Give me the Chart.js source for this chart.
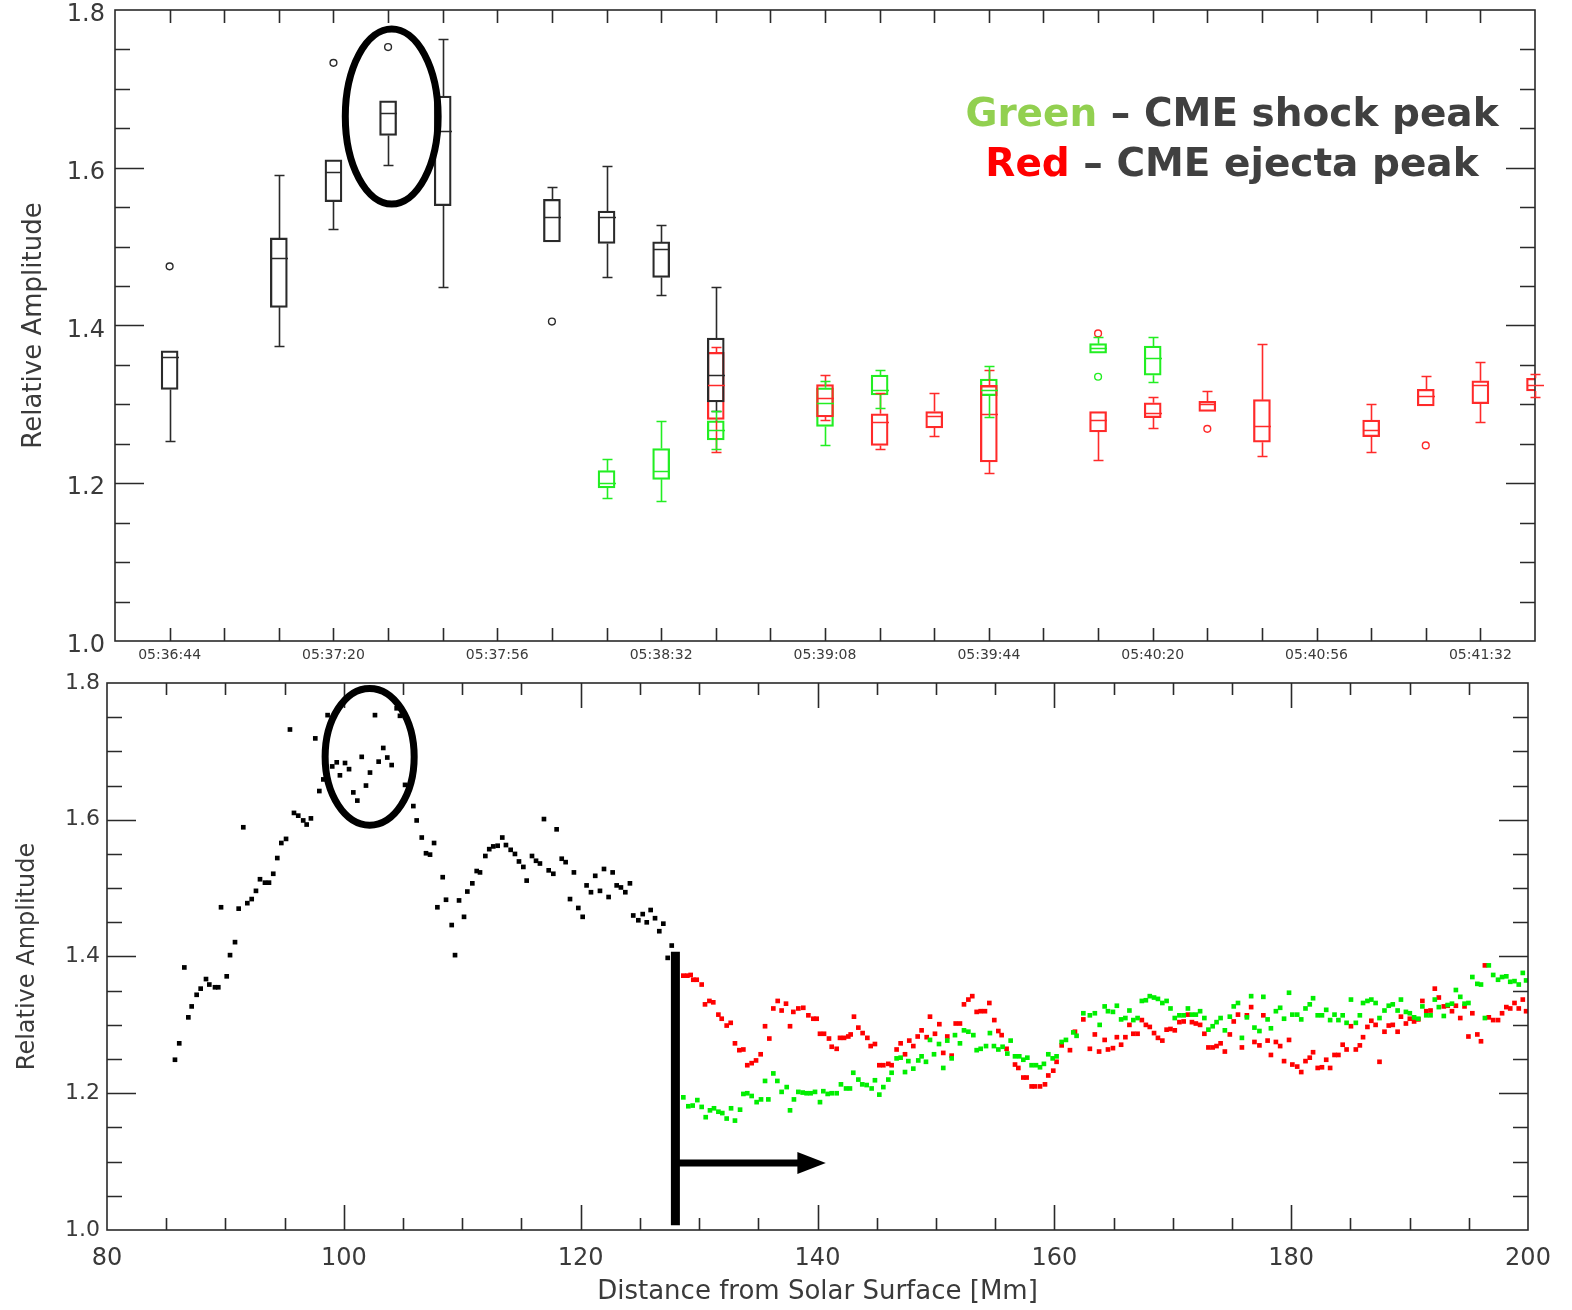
<!DOCTYPE html>
<html>
<head>
<meta charset="utf-8">
<script src="https://cdn.jsdelivr.net/npm/chart.js@4.4.1/dist/chart.umd.min.js"></script>
<style>
  html, body { margin: 0; padding: 0; background: #fff; }
  #wrap { position: relative; width: 1572px; height: 1310px; }
  .pane { position: absolute; left: 0; width: 1572px; }
  #topPane { top: 0; height: 672px; }
  #botPane { top: 672px; height: 638px; }
</style>
</head>
<body>
<div id="wrap">
  <div class="pane" id="topPane"><canvas id="boxChart" width="1572" height="672"></canvas></div>
  <div class="pane" id="botPane"><canvas id="dotChart" width="1572" height="638"></canvas></div>
</div>
<script>
// ---- top panel: box plots vs time ----
const timeStart = '05:36:32';
const timeEnd = '05:41:44';
const timeLabels = ['05:36:44', '05:37:20', '05:37:56', '05:38:32', '05:39:08',
  '05:39:44', '05:40:20', '05:40:56', '05:41:32'];

// each box: [min, q1, median, q3, max]
const blackTimes = ['05:36:44', '05:37:08', '05:37:20', '05:37:32', '05:37:44',
  '05:38:08', '05:38:20', '05:38:32', '05:38:44'];
const blackBoxes = [
  [1.254, 1.319, 1.360, 1.368, 1.368],
  [1.374, 1.423, 1.485, 1.511, 1.591],
  [1.522, 1.557, 1.595, 1.610, 1.610],
  [1.603, 1.641, 1.670, 1.685, 1.685],
  [1.449, 1.552, 1.646, 1.691, 1.763],
  [1.506, 1.506, 1.537, 1.560, 1.576],
  [1.461, 1.504, 1.537, 1.545, 1.602],
  [1.439, 1.461, 1.497, 1.506, 1.528],
  [1.292, 1.303, 1.337, 1.384, 1.449]
];
const blackOutliers = [['05:36:44', 1.475], ['05:37:20', 1.733], ['05:37:32', 1.753], ['05:38:08', 1.405]];

const greenTimes = ['05:38:20', '05:38:32', '05:38:44', '05:39:08', '05:39:20',
  '05:39:44', '05:40:08', '05:40:20'];
const greenBoxes = [
  [1.181, 1.194, 1.200, 1.216, 1.231],
  [1.178, 1.205, 1.216, 1.244, 1.279],
  [1.243, 1.255, 1.267, 1.279, 1.292],
  [1.248, 1.272, 1.302, 1.321, 1.330],
  [1.296, 1.312, 1.318, 1.337, 1.343],
  [1.284, 1.311, 1.318, 1.332, 1.349],
  [1.365, 1.365, 1.371, 1.377, 1.386],
  [1.329, 1.337, 1.359, 1.374, 1.385]
];
const greenOutliers = [['05:40:08', 1.335]];

const redTimes = ['05:38:44', '05:39:08', '05:39:20', '05:39:32', '05:39:44', '05:40:08',
  '05:40:20', '05:40:32', '05:40:44', '05:41:08', '05:41:20', '05:41:32', '05:41:44'];
const redBoxes = [
  [1.240, 1.281, 1.324, 1.366, 1.373],
  [1.280, 1.284, 1.308, 1.325, 1.337],
  [1.244, 1.248, 1.278, 1.288, 1.314],
  [1.260, 1.270, 1.285, 1.291, 1.315],
  [1.213, 1.227, 1.288, 1.324, 1.343],
  [1.229, 1.265, 1.280, 1.291, 1.291],
  [1.270, 1.283, 1.289, 1.302, 1.309],
  [1.291, 1.291, 1.301, 1.304, 1.317],
  [1.234, 1.252, 1.273, 1.306, 1.377],
  [1.239, 1.259, 1.267, 1.280, 1.301],
  [1.298, 1.298, 1.311, 1.319, 1.336],
  [1.278, 1.301, 1.325, 1.330, 1.354],
  [1.309, 1.317, 1.325, 1.333, 1.338]
];
const redOutliers = [['05:40:08', 1.390], ['05:40:32', 1.269], ['05:41:20', 1.248]];

// ---- bottom panel: amplitude vs distance [Mm, rel. amplitude] ----
const blackPoints = [
  [85.74,1.249],[86.10,1.273],[86.53,1.384],[86.87,1.311],[87.15,1.327],[87.57,1.344],[87.91,1.353],
  [88.36,1.367],[88.64,1.359],[89.12,1.355],[89.40,1.355],[89.63,1.472],[90.11,1.371],[90.39,1.402],
  [90.81,1.421],[91.12,1.470],[91.51,1.589],[91.85,1.478],[92.22,1.484],[92.58,1.496],[92.92,1.513],
  [93.34,1.508],[93.68,1.508],[94.04,1.521],[94.38,1.544],[94.72,1.566],[95.12,1.572],[95.45,1.732],
  [95.79,1.610],[96.15,1.606],[96.57,1.599],[96.86,1.593],[97.22,1.602],[97.59,1.719],[97.93,1.642],
  [98.27,1.659],[98.63,1.753],[99.02,1.678],[99.40,1.684],[99.67,1.665],[100.10,1.683],[100.44,1.674],
  [100.80,1.640],[101.14,1.628],[101.51,1.692],[101.87,1.650],[102.21,1.669],[102.63,1.753],[102.94,1.685],
  [103.33,1.705],[103.67,1.691],[104.04,1.680],[104.46,1.763],[104.74,1.752],[105.17,1.651],[105.87,1.620],
  [106.15,1.599],[106.58,1.574],[106.94,1.551],[107.28,1.549],[107.62,1.566],[107.90,1.472],[108.35,1.516],
  [108.63,1.483],[109.11,1.446],[109.39,1.402],[109.73,1.482],[110.15,1.458],[110.43,1.495],[110.85,1.507],
  [111.22,1.525],[111.50,1.523],[111.95,1.547],[112.28,1.557],[112.62,1.561],[112.99,1.562],[113.38,1.574],
  [113.69,1.563],[114.09,1.556],[114.45,1.550],[114.79,1.539],[115.16,1.531],[115.44,1.511],[115.89,1.547],
  [116.23,1.540],[116.56,1.536],[116.90,1.601],[117.30,1.526],[117.69,1.521],[117.97,1.586],[118.40,1.543],
  [118.73,1.538],[119.10,1.484],[119.43,1.523],[119.80,1.471],[120.17,1.458],[120.50,1.504],[120.87,1.494],
  [121.23,1.518],[121.63,1.496],[121.97,1.528],[122.36,1.487],[122.70,1.523],[123.04,1.504],[123.40,1.501],
  [123.77,1.494],[124.16,1.507],[124.44,1.460],[124.87,1.453],[125.24,1.462],[125.58,1.450],[125.91,1.468],
  [126.28,1.456],[126.64,1.437],[126.98,1.448],[127.35,1.398],[127.69,1.416]
];
const redPoints = [
  [128.67,1.372],[129.01,1.372],[129.29,1.373],[129.51,1.366],[129.80,1.366],[130.22,1.359],[130.50,1.330],
  [130.87,1.335],[131.20,1.333],[131.63,1.315],[131.91,1.309],[132.33,1.299],[132.67,1.303],[133.03,1.273],
  [133.40,1.263],[133.74,1.264],[134.07,1.241],[134.44,1.244],[134.81,1.248],[135.20,1.257],[135.57,1.298],
  [135.93,1.280],[136.27,1.324],[136.64,1.335],[136.97,1.321],[137.34,1.331],[137.68,1.298],[137.96,1.319],
  [138.38,1.324],[138.80,1.325],[139.23,1.314],[139.65,1.309],[139.93,1.309],[140.21,1.287],[140.55,1.287],
  [140.97,1.280],[141.20,1.268],[141.62,1.265],[141.90,1.281],[142.24,1.281],[142.60,1.283],[142.80,1.286],
  [143.08,1.312],[143.45,1.296],[143.81,1.288],[144.21,1.281],[144.49,1.269],[144.85,1.272],[145.22,1.241],
  [145.56,1.241],[145.98,1.243],[146.26,1.241],[146.68,1.264],[147.02,1.273],[147.39,1.257],[147.75,1.277],
  [148.09,1.269],[148.46,1.283],[148.79,1.292],[149.22,1.282],[149.50,1.312],[149.92,1.287],[150.29,1.301],
  [150.62,1.259],[150.96,1.283],[151.33,1.255],[151.67,1.302],[152.03,1.302],[152.37,1.330],[152.74,1.337],
  [153.07,1.342],[153.44,1.319],[153.78,1.320],[154.14,1.320],[154.51,1.332],[154.93,1.307],[155.27,1.291],
  [155.55,1.285],[155.97,1.265],[156.68,1.242],[156.96,1.237],[157.38,1.223],[157.66,1.223],[158.08,1.210],
  [158.36,1.210],[158.79,1.210],[159.21,1.213],[159.49,1.226],[159.91,1.233],[160.19,1.246],[160.62,1.270],
  [161.32,1.263],[161.74,1.290],[162.45,1.308],
  [163.00,1.265],[163.42,1.286],[163.78,1.261],[164.25,1.278],[164.53,1.264],[164.95,1.266],[165.28,1.282],
  [165.64,1.271],[166.00,1.282],[166.34,1.300],[166.67,1.287],[167.03,1.287],[167.39,1.307],[167.73,1.300],
  [168.06,1.297],[168.42,1.288],[168.75,1.281],[169.12,1.277],[169.48,1.293],[169.81,1.294],[170.17,1.292],
  [170.56,1.304],[170.92,1.305],[171.28,1.315],[171.62,1.304],[171.95,1.302],[172.31,1.300],[172.67,1.287],
  [173.01,1.267],[173.37,1.267],[173.70,1.269],[174.04,1.273],[174.40,1.261],[174.82,1.286],[175.15,1.305],
  [175.51,1.315],[175.84,1.267],[176.26,1.314],[176.62,1.326],[176.90,1.275],[177.32,1.270],[177.65,1.314],
  [178.01,1.277],[178.29,1.256],[178.71,1.275],[179.07,1.269],[179.40,1.247],[179.82,1.278],[180.10,1.242],
  [180.51,1.239],[180.85,1.231],[181.21,1.247],[181.57,1.252],[181.85,1.260],[182.24,1.237],[182.60,1.238],
  [182.96,1.249],[183.29,1.237],[183.66,1.256],[183.99,1.256],[184.35,1.271],[184.68,1.264],[185.05,1.298],
  [185.46,1.264],[185.80,1.270],[186.07,1.282],[186.44,1.297],[186.77,1.306],[187.13,1.300],[187.46,1.246],
  [187.88,1.290],[188.24,1.299],[188.58,1.300],[188.99,1.290],[189.27,1.312],[189.69,1.302],[190.02,1.309],
  [190.38,1.305],[190.74,1.308],[191.08,1.335],[191.41,1.320],[191.77,1.321],[192.13,1.353],[192.47,1.340],
  [192.89,1.327],[193.22,1.328],[193.58,1.320],[193.91,1.328],[194.28,1.310],[194.64,1.327],[194.97,1.283],
  [195.30,1.317],[195.72,1.286],[196.03,1.276],[196.36,1.387],[196.69,1.311],[197.06,1.307],[197.47,1.307],
  [197.81,1.317],[198.17,1.326],[198.50,1.324],[198.86,1.332],[199.22,1.324],[199.56,1.337],[199.84,1.320]
];
const greenPoints = [
  [128.67,1.194],[129.09,1.181],[129.46,1.182],[129.85,1.190],[130.22,1.180],[130.56,1.165],[130.92,1.175],
  [131.26,1.178],[131.63,1.173],[131.96,1.171],[132.33,1.163],[132.70,1.178],[133.03,1.160],[133.46,1.176],
  [133.74,1.199],[134.07,1.200],[134.44,1.196],[134.86,1.187],[135.23,1.191],[135.57,1.218],[135.85,1.191],
  [136.27,1.229],[136.61,1.218],[136.97,1.202],[137.40,1.209],[137.68,1.175],[138.01,1.191],[138.38,1.202],
  [138.75,1.201],[139.08,1.200],[139.42,1.200],[139.79,1.202],[140.21,1.187],[140.49,1.203],[140.86,1.199],
  [141.20,1.200],[141.62,1.200],[141.98,1.213],[142.41,1.207],[142.74,1.207],[143.02,1.230],[143.45,1.220],
  [143.78,1.213],[144.15,1.212],[144.57,1.207],[144.85,1.219],[145.22,1.198],[145.56,1.209],[145.98,1.220],
  [146.26,1.230],[146.68,1.251],[147.02,1.252],[147.39,1.231],[147.67,1.247],[148.09,1.236],[148.51,1.248],
  [148.79,1.254],[149.16,1.246],[149.50,1.278],[149.84,1.257],[150.26,1.272],[150.62,1.237],[150.96,1.277],
  [151.33,1.251],[151.61,1.285],[152.03,1.273],[152.37,1.292],[152.74,1.290],[153.16,1.285],[153.44,1.263],
  [153.78,1.265],[154.23,1.269],[154.56,1.288],[154.90,1.269],[155.27,1.264],[155.63,1.268],[156.03,1.258],
  [156.31,1.277],[156.68,1.254],[157.04,1.254],[157.38,1.249],[157.72,1.252],[158.08,1.241],[158.45,1.241],
  [158.79,1.238],[159.12,1.243],[159.49,1.257],[159.86,1.251],[160.19,1.254],[160.62,1.275],[160.98,1.278],
  [161.60,1.289],[161.88,1.284],[162.45,1.317],
  [163.00,1.314],[163.42,1.317],[163.83,1.300],[164.25,1.327],[164.53,1.320],[164.95,1.319],[165.28,1.328],
  [165.64,1.308],[166.00,1.310],[166.34,1.321],[166.67,1.307],[167.03,1.310],[167.39,1.335],[167.73,1.336],
  [168.06,1.342],[168.42,1.340],[168.75,1.338],[169.12,1.332],[169.48,1.335],[169.81,1.324],[170.17,1.310],
  [170.56,1.314],[170.92,1.314],[171.28,1.324],[171.62,1.315],[171.95,1.315],[172.31,1.320],[172.67,1.310],
  [173.01,1.293],[173.37,1.298],[173.70,1.304],[174.04,1.310],[174.40,1.292],[174.82,1.312],[175.15,1.327],
  [175.51,1.332],[175.84,1.281],[176.26,1.311],[176.62,1.342],[176.90,1.296],[177.32,1.291],[177.65,1.341],
  [178.01,1.308],[178.29,1.295],[178.71,1.320],[179.07,1.325],[179.40,1.309],[179.82,1.347],[180.10,1.315],
  [180.51,1.315],[180.85,1.308],[181.21,1.324],[181.57,1.330],[181.85,1.339],[182.24,1.314],[182.60,1.314],
  [182.96,1.322],[183.29,1.307],[183.66,1.315],[183.99,1.307],[184.35,1.314],[184.68,1.303],[185.05,1.337],
  [185.46,1.303],[185.80,1.314],[186.07,1.332],[186.44,1.335],[186.77,1.337],[187.13,1.332],[187.46,1.310],
  [187.88,1.321],[188.24,1.328],[188.58,1.330],[188.99,1.321],[189.27,1.337],[189.69,1.319],[190.02,1.317],
  [190.38,1.311],[190.74,1.309],[191.08,1.327],[191.41,1.314],[191.77,1.314],[192.13,1.337],[192.47,1.326],
  [192.89,1.313],[193.22,1.329],[193.58,1.331],[193.91,1.351],[194.28,1.341],[194.64,1.331],[194.97,1.332],
  [195.30,1.370],[195.72,1.360],[196.03,1.359],[196.36,1.310],[196.69,1.387],[197.06,1.373],[197.47,1.366],
  [197.81,1.370],[198.17,1.371],[198.50,1.363],[198.86,1.364],[199.22,1.359],[199.56,1.376],[199.84,1.365]
];

const legendLines = [
  [['Green', '#92d050'], [' \u2013 CME shock peak', '#404040']],
  [['Red', '#ff0000'], [' \u2013 CME ejecta peak', '#404040']]
];

// seconds since the left edge of the time axis
const clock = s => { const [h, m, x] = s.split(':').map(Number); return h * 3600 + m * 60 + x; };
const secs = s => clock(s) - clock(timeStart);

Chart.defaults.font.family = '"DejaVu Sans", "Liberation Sans", sans-serif';
Chart.defaults.color = '#3a3a3a';
Chart.defaults.animation = false;

// IDL style frame: box on four sides, tick marks pointing inwards
const idlAxes = {
  id: 'idlAxes',
  afterDatasetsDraw(chart, args, o) {
    const { ctx, chartArea: a, scales: { x, y } } = chart;
    ctx.save();
    ctx.strokeStyle = '#2a2a2a';
    ctx.lineWidth = 1.6;
    ctx.beginPath();
    for (let n = Math.ceil(x.min / o.xStep); n * o.xStep <= x.max; n++) {
      const v = n * o.xStep;
      const px = Math.round(x.getPixelForValue(v)) + 0.5;
      if (px <= a.left + 2 || px >= a.right - 2) continue;
      const len = (n * o.xStep) % o.xMajor === 0 ? o.xMajorLen : o.xMinorLen;
      ctx.moveTo(px, a.bottom); ctx.lineTo(px, a.bottom - len);
      ctx.moveTo(px, a.top); ctx.lineTo(px, a.top + len);
    }
    const per = Math.round(o.yMajor / o.yStep);
    for (let n = Math.ceil(y.min / o.yStep - 1e-6); n * o.yStep <= y.max + 1e-6; n++) {
      const py = Math.round(y.getPixelForValue(n * o.yStep)) + 0.5;
      if (py <= a.top + 2 || py >= a.bottom - 2) continue;
      const len = n % per === 0 ? o.yMajorLen : o.yMinorLen;
      ctx.moveTo(a.left, py); ctx.lineTo(a.left + len, py);
      ctx.moveTo(a.right, py); ctx.lineTo(a.right - len, py);
    }
    ctx.stroke();
    ctx.strokeRect(a.left, a.top, a.right - a.left, a.bottom - a.top);
    ctx.restore();
  }
};

// whiskers and medians on top of the floating bars
const whiskers = {
  id: 'whiskers',
  afterDatasetsDraw(chart) {
    const ctx = chart.ctx, y = chart.scales.y;
    chart.data.datasets.forEach((ds, i) => {
      if (!ds.boxes) return;
      const meta = chart.getDatasetMeta(i);
      ctx.save();
      ctx.strokeStyle = ds.borderColor;
      ctx.lineWidth = ds.borderWidth;
      ctx.beginPath();
      meta.data.forEach((bar, j) => {
        const [lo, q1, med, q3, hi] = ds.boxes[j];
        const cx = Math.round(bar.x) + 0.5, half = bar.width / 2, cap = 5;
        const pm = Math.round(y.getPixelForValue(med)) + 0.5;
        ctx.moveTo(cx - half, pm); ctx.lineTo(cx + half, pm);
        if (hi > q3) {
          const ph = Math.round(y.getPixelForValue(hi)) + 0.5;
          ctx.moveTo(cx, y.getPixelForValue(q3)); ctx.lineTo(cx, ph);
          ctx.moveTo(cx - cap, ph); ctx.lineTo(cx + cap, ph);
        }
        if (lo < q1) {
          const pl = Math.round(y.getPixelForValue(lo)) + 0.5;
          ctx.moveTo(cx, y.getPixelForValue(q1)); ctx.lineTo(cx, pl);
          ctx.moveTo(cx - cap, pl); ctx.lineTo(cx + cap, pl);
        }
      });
      ctx.stroke();
      ctx.restore();
    });
  }
};

const topNotes = {
  id: 'topNotes',
  afterDraw(chart) {
    const { ctx, chartArea: a, scales: { x, y } } = chart;
    ctx.save();
    // circled box
    const cx = x.getPixelForValue(60.8), cy = y.getPixelForValue(1.665);
    ctx.lineWidth = 7;
    ctx.strokeStyle = '#000';
    ctx.beginPath();
    ctx.ellipse(cx, cy, x.getPixelForValue(60.8 + 10.2) - cx, cy - y.getPixelForValue(1.665 + 0.111), 0, 0, Math.PI * 2);
    ctx.stroke();
    // colour key
    ctx.font = 'bold 39px "DejaVu Sans"';
    ctx.textBaseline = 'middle';
    legendLines.forEach((parts, k) => {
      const w = parts.reduce((s, p) => s + ctx.measureText(p[0]).width, 0);
      let px = a.right - 303 - w / 2;
      parts.forEach(p => {
        ctx.fillStyle = p[1];
        ctx.fillText(p[0], px, 116 + k * 50);
        px += ctx.measureText(p[0]).width;
      });
    });
    ctx.restore();
  }
};

const botNotes = {
  id: 'botNotes',
  afterDraw(chart) {
    const { ctx, scales: { x, y } } = chart;
    ctx.save();
    ctx.strokeStyle = '#000';
    ctx.fillStyle = '#000';
    const cx = x.getPixelForValue(102.18), cy = y.getPixelForValue(1.692);
    ctx.lineWidth = 7;
    ctx.beginPath();
    ctx.ellipse(cx, cy, x.getPixelForValue(102.18 + 3.76) - cx, cy - y.getPixelForValue(1.692 + 0.1), 0, 0, Math.PI * 2);
    ctx.stroke();
    // onset marker and arrow
    const bx = x.getPixelForValue(128);
    ctx.lineWidth = 9;
    ctx.beginPath();
    ctx.moveTo(bx, y.getPixelForValue(1.407));
    ctx.lineTo(bx, y.getPixelForValue(1.007));
    ctx.stroke();
    const ay = y.getPixelForValue(1.098);
    const shaftEnd = x.getPixelForValue(138.3), tip = x.getPixelForValue(140.7);
    ctx.lineWidth = 7;
    ctx.beginPath();
    ctx.moveTo(bx, ay); ctx.lineTo(shaftEnd + 2, ay);
    ctx.stroke();
    ctx.beginPath();
    ctx.moveTo(shaftEnd, ay - 11); ctx.lineTo(tip, ay); ctx.lineTo(shaftEnd, ay + 11);
    ctx.closePath();
    ctx.fill();
    ctx.restore();
  }
};

const boxSet = (label, times, boxes, color) => ({
  type: 'bar',
  label,
  data: boxes.map((b, j) => ({ x: secs(times[j]), y: [b[1], b[3]] })),
  boxes,
  backgroundColor: 'rgba(0,0,0,0)',
  borderColor: color,
  borderWidth: 1.6,
  borderSkipped: false,
  barThickness: 17,
  grouped: false
});
const outlierSet = (label, pts, color) => ({
  type: 'scatter',
  label,
  data: pts.map(p => ({ x: secs(p[0]), y: p[1] })),
  pointStyle: 'circle',
  pointRadius: 3.4,
  borderColor: color,
  borderWidth: 1.4,
  backgroundColor: 'rgba(0,0,0,0)'
});

new Chart(document.getElementById('boxChart'), {
  type: 'bar',
  data: {
    datasets: [
      boxSet('black', blackTimes, blackBoxes, '#2a2a2a'),
      outlierSet('black out', blackOutliers, '#2a2a2a'),
      boxSet('red', redTimes, redBoxes, '#ff2a2a'),
      outlierSet('red out', redOutliers, '#ff2a2a'),
      boxSet('green', greenTimes, greenBoxes, '#22ee22'),
      outlierSet('green out', greenOutliers, '#22ee22')
    ]
  },
  options: {
    responsive: false,
    layout: { padding: { top: 10, right: 37, left: 0, bottom: 0 } },
    plugins: {
      legend: { display: false },
      tooltip: { enabled: false },
      idlAxes: { xStep: 12, xMajor: 36, xMajorLen: 13, xMinorLen: 13, yStep: 0.05, yMajor: 0.2, yMajorLen: 29, yMinorLen: 15 }
    },
    scales: {
      x: {
        type: 'linear',
        offset: false,
        min: 0,
        max: secs(timeEnd),
        grid: { display: false, drawTicks: false },
        border: { display: false },
        afterBuildTicks: s => { s.ticks = timeLabels.map(l => ({ value: secs(l) })); },
        afterFit: s => { s.height = 31; s.paddingLeft = 0; s.paddingRight = 0; },
        ticks: {
          autoSkip: false, maxRotation: 0, padding: 6,
          font: { size: 14 },
          callback: (v, i) => timeLabels[i]
        }
      },
      y: {
        min: 1.0,
        max: 1.8,
        grid: { display: false, drawTicks: false },
        border: { display: false },
        afterFit: s => { s.width = 115; s.paddingTop = 0; s.paddingBottom = 0; },
        ticks: { stepSize: 0.2, padding: 10, labelOffset: 5, font: { size: 24 }, callback: v => v.toFixed(1) },
        title: { display: true, text: 'Relative Amplitude', font: { size: 26 }, padding: { top: 19, bottom: 0 } }
      }
    }
  },
  plugins: [idlAxes, whiskers, topNotes]
});

const dotSet = (label, pts, color, order) => ({
  label,
  data: pts.map(p => ({ x: p[0], y: p[1] })),
  pointStyle: 'rect',
  pointRadius: 3.3,
  borderWidth: 0,
  backgroundColor: color,
  order
});

new Chart(document.getElementById('dotChart'), {
  type: 'scatter',
  data: {
    datasets: [
      dotSet('black', blackPoints, '#000000', 3),
      dotSet('red', redPoints, '#ff0000', 2),
      dotSet('green', greenPoints, '#00ee00', 1)
    ]
  },
  options: {
    responsive: false,
    layout: { padding: { top: 11, right: 44, left: 0, bottom: 0 } },
    plugins: {
      legend: { display: false },
      tooltip: { enabled: false },
      idlAxes: { xStep: 5, xMajor: 20, xMajorLen: 25, xMinorLen: 12, yStep: 0.05, yMajor: 0.2, yMajorLen: 29, yMinorLen: 15 }
    },
    scales: {
      x: {
        type: 'linear',
        min: 80,
        max: 200,
        grid: { display: false, drawTicks: false },
        border: { display: false },
        afterFit: s => { s.height = 80; s.paddingLeft = 0; s.paddingRight = 0; },
        ticks: { stepSize: 20, padding: 14, maxRotation: 0, font: { size: 24 } },
        title: { display: true, text: 'Distance from Solar Surface [Mm]', font: { size: 26 }, padding: { top: 0, bottom: 2 } }
      },
      y: {
        min: 1.0,
        max: 1.8,
        grid: { display: false, drawTicks: false },
        border: { display: false },
        afterFit: s => { s.width = 107; s.paddingTop = 0; s.paddingBottom = 0; },
        ticks: { stepSize: 0.2, padding: 7, font: { size: 22 }, callback: v => v.toFixed(1) },
        title: { display: true, text: 'Relative Amplitude', font: { size: 24 }, padding: { top: 13, bottom: 0 } }
      }
    }
  },
  plugins: [idlAxes, botNotes]
});
</script>
</body>
</html>
